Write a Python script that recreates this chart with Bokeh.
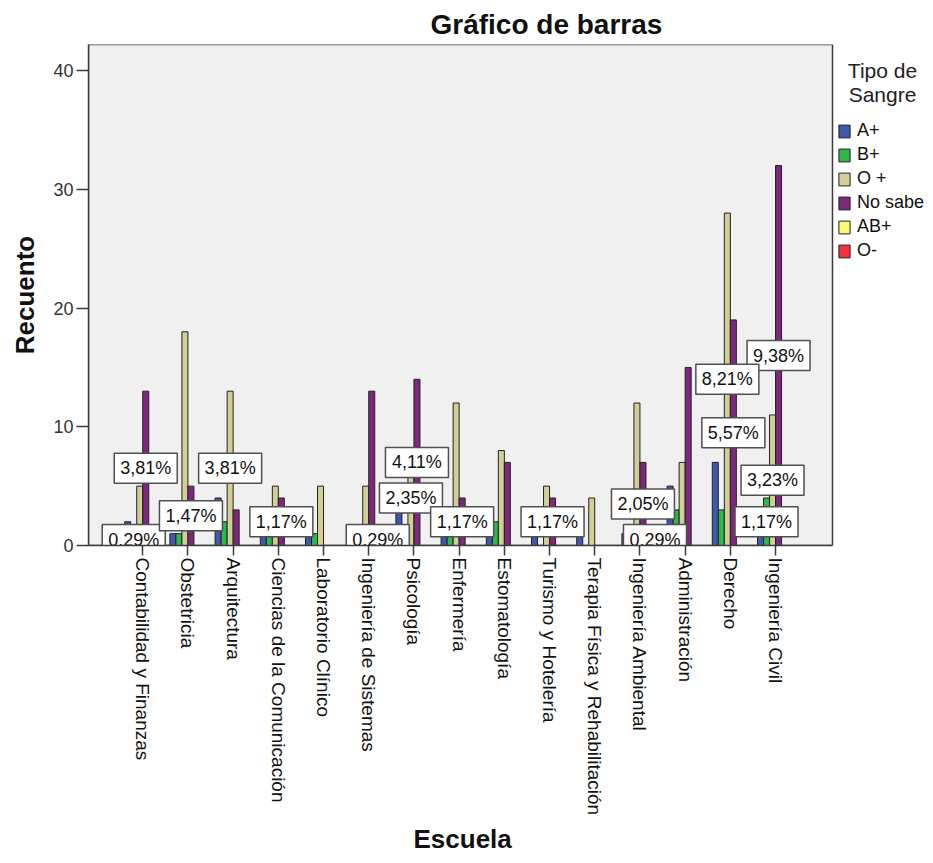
import math
from bokeh.plotting import figure
from bokeh.models import (ColumnDataSource, Range1d, FixedTicker, Legend, LegendItem,
                          Label, BoxAnnotation, Title)
from bokeh.transform import dodge
from bokeh.core.properties import value
from bokeh.embed import file_html
from bokeh.resources import INLINE

# ---------------- data ----------------
escuelas = ["Contabilidad y Finanzas", "Obstetricia", "Arquitectura",
            "Ciencias de la Comunicación", "Laboratorio Clínico",
            "Ingeniería de Sistemas", "Psicología", "Enfermería", "Estomatología",
            "Turismo y Hotelería", "Terapia Física y Rehabilitación",
            "Ingeniería Ambiental", "Administración", "Derecho", "Ingeniería Civil"]
tipos = ["A+", "B+", "O +", "No sabe", "AB+", "O-"]
a_pos   = [2, 1, 4, 1, 1, 1, 3, 1, 1, 1, 1, 1, 5, 7, 1]
b_pos   = [1, 1, 2, 1, 1, 1, 1, 1, 2, 0, 0, 1, 3, 3, 4]
o_pos   = [5, 18, 13, 5, 5, 5, 8, 12, 8, 5, 4, 12, 7, 28, 11]
no_sabe = [13, 5, 3, 4, 0, 13, 14, 4, 7, 4, 0, 7, 15, 19, 32]
ab_pos  = [0, 0, 0, 0, 0, 1, 0, 0, 0, 0, 0, 0, 0, 0, 0]
o_neg   = [0, 0, 0, 0, 0, 0, 0, 0, 0, 0, 0, 1, 0, 0, 0]
colores = ["#3E58AC", "#2EB848", "#D3CE97", "#7C287D", "#FBF873", "#EF3338"]
y_ticks = [0, 10, 20, 30, 40]

# percentage labels (school, blood type, text)
lab_escuela = ["Contabilidad y Finanzas", "Contabilidad y Finanzas", "Obstetricia",
               "Arquitectura", "Ciencias de la Comunicación", "Ingeniería de Sistemas",
               "Psicología", "Psicología", "Enfermería", "Turismo y Hotelería",
               "Ingeniería Ambiental", "Ingeniería Ambiental", "Ingeniería Civil",
               "Derecho", "Derecho", "Ingeniería Civil", "Ingeniería Civil"]
lab_tipo = ["No sabe", "B+", "No sabe", "O +", "No sabe", "AB+",
            "No sabe", "O +", "No sabe", "No sabe", "No sabe", "O-",
            "No sabe", "O +", "No sabe", "O +", "B+"]
lab_texto = ["3,81%", "0,29%", "1,47%", "3,81%", "1,17%", "0,29%",
             "4,11%", "2,35%", "1,17%", "1,17%", "2,05%", "0,29%",
             "9,38%", "8,21%", "5,57%", "3,23%", "1,17%"]

# ---------------- layout constants ----------------
FONT = "Liberation Sans"
W, H = 925, 860
LEFT, TOP, BOTTOM = 88, 44, 315
PLOT_W = 744                      # width of the grey plotting area in px
FRAME_W = W - LEFT                # frame extends under the legend zone
X0, X1 = -1.2, 15.26              # data extent of the grey plotting area
Y0, Y1 = 0, 42.2
x_end = X0 + (X1 - X0) * FRAME_W / PLOT_W
FRAME_H = H - TOP - BOTTOM

series = [a_pos, b_pos, o_pos, no_sabe, ab_pos, o_neg]
cols = ["s0", "s1", "s2", "s3", "s4", "s5"]
bw = 0.133
offsets = [(k - 2.5) * bw for k in range(len(tipos))]

data = dict(idx=list(range(len(escuelas))))
for c, s in zip(cols, series):
    data[c] = s
src = ColumnDataSource(data)

p = figure(width=W, height=H,
           x_range=Range1d(X0, x_end), y_range=Range1d(Y0, Y1),
           output_backend="svg", toolbar_location=None,
           min_border_left=LEFT, min_border_right=0, min_border_top=TOP,
           min_border_bottom=BOTTOM, title="Gráfico de barras")

p.background_fill_color = "white"
p.border_fill_color = "white"
p.outline_line_color = None
p.xgrid.visible = False
p.ygrid.visible = False

# grey plotting area with its border
p.add_layout(BoxAnnotation(left=X0, right=X1, bottom=Y0, top=Y1, level="underlay",
                           fill_color="#F0F0F0", fill_alpha=1.0,
                           line_color="#3C3C3C", line_width=1.5, line_alpha=1.0))

renderers = []
for k, c in enumerate(cols):
    r = p.vbar(x=dodge("idx", offsets[k], range=p.x_range), top=c, width=bw,
               source=src, fill_color=colores[k], line_color="#222222", line_width=1)
    renderers.append(r)

# percentage labels at half the bar height
lx, ly = [], []
for e, t in zip(lab_escuela, lab_tipo):
    i = escuelas.index(e)
    k = tipos.index(t)
    lx.append(i + offsets[k])
    ly.append(series[k][i] / 2.0)
lsrc = ColumnDataSource(dict(x=lx, y=ly, t=lab_texto))
p.rect(x="x", y="y", width=63, height=30, width_units="screen", height_units="screen",
       source=lsrc, fill_color="white", line_color="#505050", line_width=1.5)
p.text(x="x", y="y", text="t", source=lsrc, text_align="center", text_baseline="middle",
       text_font=value(FONT), text_font_size="18px", text_color="#111111")

# title
p.title.text_font = FONT
p.title.text_font_size = "28px"
p.title.text_font_style = "bold"
p.title.align = "left"
p.title.offset = 342
p.title.text_color = "#111111"

# axes
xa = p.xaxis[0]
xa.bounds = (X0, X1)
xa.ticker = FixedTicker(ticks=list(range(len(escuelas))))
xa.major_label_overrides = {i: n for i, n in enumerate(escuelas)}
xa.major_label_orientation = -math.pi / 2
xa.major_label_text_font = FONT
xa.major_label_text_font_size = "19px"
xa.major_label_text_color = "#111111"
xa.major_label_standoff = 2
xa.major_tick_out = 10
xa.major_tick_in = 0
xa.minor_tick_line_color = None
xa.axis_line_color = "#3C3C3C"
xa.axis_line_width = 1.5
xa.major_tick_line_color = "#3C3C3C"
xa.major_tick_line_width = 1.5

# x-axis title, centred under the grey area
p.add_layout(Title(text="Escuela", align="left", offset=325, standoff=6,
                   text_font=FONT, text_font_size="26px", text_font_style="bold",
                   text_color="#111111"), "below")

ya = p.yaxis[0]
ya.ticker = FixedTicker(ticks=y_ticks)
ya.major_label_text_font = FONT
ya.major_label_text_font_size = "18px"
ya.major_label_text_color = "#333333"
ya.major_label_standoff = 3
ya.major_tick_out = 12
ya.major_tick_in = 0
ya.minor_tick_line_color = None
ya.axis_line_color = "#3C3C3C"
ya.axis_line_width = 1.5
ya.major_tick_line_color = "#3C3C3C"
ya.major_tick_line_width = 1.5
ya.axis_label = "Recuento"
ya.axis_label_text_font = FONT
ya.axis_label_text_font_size = "26px"
ya.axis_label_text_font_style = "bold"
ya.axis_label_text_color = "#111111"
ya.axis_label_standoff = 10

# legend, to the right of the grey area
items = [LegendItem(label=t, renderers=[r]) for t, r in zip(tipos, renderers)]
legend = Legend(items=items, location=(PLOT_W + 5, FRAME_H - 76 - 141), orientation="vertical",
                padding=0, margin=0, spacing=3, glyph_width=14, glyph_height=16,
                label_height=20, label_standoff=6, label_text_font=FONT,
                label_text_font_size="18px", label_text_color="#111111",
                border_line_alpha=0, background_fill_alpha=0)
p.add_layout(legend)
for txt, dy in [("Tipo de", 26), ("Sangre", 50)]:
    p.add_layout(Label(x=PLOT_W + 50, y=FRAME_H - dy, x_units="screen", y_units="screen",
                       text=txt, text_align="center", text_baseline="middle",
                       text_font=FONT, text_font_size="21px", text_color="#222222"))

open("out.html", "w").write(file_html(p, INLINE))
